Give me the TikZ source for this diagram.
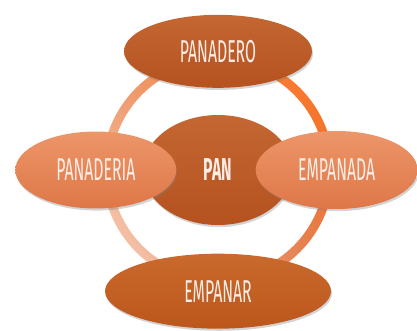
\documentclass[tikz,border=0pt]{standalone}
\usepackage{fontspec}
\usepackage{tikz}
\usetikzlibrary{positioning}
\usetikzlibrary{shapes.geometric,shadows,shadings}
\newfontfamily\wordfont[FakeStretch=0.5]{Fira Sans}
\definecolor{ovaltext}{HTML}{FBEDE6}
\definecolor{darktop}{HTML}{C46732}
\definecolor{darkbot}{HTML}{B5521F}
\definecolor{lighttop}{HTML}{EC9669}
\definecolor{lightbot}{HTML}{DF7748}

\begin{document}
\begin{tikzpicture}[x=0.02cm,y=-0.02cm,
    wordoval/.style={ellipse, inner sep=0pt, text=ovaltext,
      font=\wordfont\fontsize{18}{20}\selectfont,
      drop shadow={shadow xshift=0.6pt,shadow yshift=-1.2pt,opacity=0.35}},
    darkoval/.style={wordoval, top color=darktop, bottom color=darkbot},
    lightoval/.style={wordoval, top color=lighttop, bottom color=lightbot}]
\useasboundingbox (0,0) rectangle (417,331);

% ring behind the words
\coordinate (hub) at (218,170);
\shade[even odd rule, upper left=lighttop, upper right=orange!75!red!90!white,
       lower left=lighttop!40!white, lower right=lightbot]
  (hub) circle[radius=116] (hub) circle[radius=107];

\node[darkoval,
      minimum width=3cm,
      minimum height=2.2cm,
      font=\wordfont\bfseries\fontsize{18}{20}\selectfont
     ]
     (pan) at (hub) {PAN};
\node[lightoval,
      minimum width=3.22cm,
      minimum height=1.54cm,
      left=-0.68cm of pan
     ]
     (panaderia) {PANADERIA};
\node[lightoval,
      minimum width=3.24cm,
      minimum height=1.56cm,
      right=-0.76cm of pan
     ]
     (empanada) {EMPANADA};
\node[darkoval,
      minimum width=3.76cm,
      minimum height=1.46cm,
      above=0.53cm of pan
     ]
     (panadero) {PANADERO};
\node[darkoval,
      top color=darktop!90!orange, bottom color=darkbot!90!orange,
      minimum width=4.52cm,
      minimum height=1.5cm,
      below=0.56cm of pan
     ]
     (empanar) {EMPANAR};

\end{tikzpicture}
\end{document}
